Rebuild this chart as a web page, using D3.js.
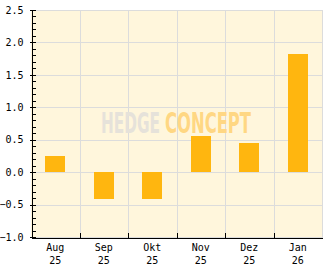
<!DOCTYPE html>
<html>
<head>
<meta charset="utf-8">
<script src="https://cdn.jsdelivr.net/npm/d3@7"></script>
<style>
  body { margin: 0; background: #fff; }
  svg { display: block; }
  .axis text { font-family: "DejaVu Sans Mono", monospace; font-size: 10px; fill: #000; }
  .axis path, .axis line { stroke: #000; shape-rendering: crispEdges; }
  .grid line { stroke: #dcdcdc; shape-rendering: crispEdges; }
  .bar { fill: #ffb60f; shape-rendering: crispEdges; }
</style>
</head>
<body>
<script>
var months = ["Aug", "Sep", "Okt", "Nov", "Dez", "Jan"];
var years = ["25", "25", "25", "25", "25", "26"];
var values = [0.25, -0.42, -0.42, 0.55, 0.45, 1.82];
var yMajor = [-1.0, -0.5, 0.0, 0.5, 1.0, 1.5, 2.0, 2.5];

var width = 332, height = 269;
var plot = {left: 31, right: 322, top: 10, bottom: 237};

var svg = d3.select("body").append("svg")
  .attr("width", width)
  .attr("height", height);

var y = d3.scaleLinear()
  .domain([-1, 2.5])
  .range([plot.bottom, plot.top]);

var x = d3.scaleBand()
  .domain(months)
  .range([plot.left, plot.right]);

// band edges for grid and x ticks
var xEdge = d3.scaleLinear()
  .domain([0, months.length])
  .range([plot.left, plot.right]);

svg.append("rect")
  .attr("x", plot.left)
  .attr("y", plot.top)
  .attr("width", plot.right - plot.left)
  .attr("height", plot.bottom - plot.top)
  .attr("fill", "#fff6dc");

var grid = svg.append("g").attr("class", "grid");
grid.selectAll(".h")
  .data(yMajor)
  .enter().append("line")
  .attr("x1", plot.left).attr("x2", plot.right + 0.5)
  .attr("y1", function(d) { return Math.round(y(d)) + 0.5; })
  .attr("y2", function(d) { return Math.round(y(d)) + 0.5; });
grid.selectAll(".v")
  .data(d3.range(1, months.length + 1))
  .enter().append("line")
  .attr("x1", function(d) { return Math.round(xEdge(d)) + 0.5; })
  .attr("x2", function(d) { return Math.round(xEdge(d)) + 0.5; })
  .attr("y1", plot.top).attr("y2", plot.bottom);

// watermark
var wm = svg.append("g")
  .attr("font-family", "'Liberation Sans Narrow', 'DejaVu Sans Condensed', sans-serif")
  .attr("font-weight", "bold")
  .attr("font-size", 28);
wm.append("text")
  .attr("x", 101).attr("y", 133)
  .attr("textLength", 59).attr("lengthAdjust", "spacingAndGlyphs")
  .attr("fill", "#e6e2da")
  .text("HEDGE");
wm.append("text")
  .attr("x", 165).attr("y", 133)
  .attr("textLength", 86).attr("lengthAdjust", "spacingAndGlyphs")
  .attr("fill", "#ffd783")
  .text("CONCEPT");

svg.selectAll(".bar")
  .data(values)
  .enter().append("rect")
  .attr("class", "bar")
  .attr("x", function(d, i) { return Math.round(x(months[i]) + x.bandwidth() / 2 - 10); })
  .attr("width", 20)
  .attr("y", function(d) { return Math.round(y(Math.max(0, d))); })
  .attr("height", function(d) { return Math.round(Math.abs(y(d) - y(0))); });

// y axis: minor ticks inward, major ticks with labels
var yMinor = svg.append("g")
  .attr("class", "axis")
  .attr("transform", "translate(" + (plot.left + 0.5) + ",0)")
  .call(d3.axisLeft(y).tickValues(d3.range(-10, 26).map(function(d) { return d / 10; }))
    .tickSize(-4).tickFormat(""));
yMinor.select(".domain").remove();

svg.append("g")
  .attr("class", "axis")
  .attr("transform", "translate(" + (plot.left + 0.5) + ",0)")
  .call(d3.axisLeft(y).tickValues(yMajor).tickSizeInner(2).tickSizeOuter(0).tickPadding(6)
    .tickFormat(d3.format(".1f")));

// x axis
svg.append("g")
  .attr("class", "axis")
  .attr("transform", "translate(0," + (plot.bottom + 0.5) + ")")
  .call(d3.axisBottom(xEdge).tickValues(d3.range(1, months.length)).tickSize(-5).tickSizeOuter(0).tickFormat(""));

var labels = svg.append("g")
  .attr("class", "axis")
  .attr("text-anchor", "middle");
labels.selectAll(".m")
  .data(months)
  .enter().append("text")
  .attr("x", function(d) { return x(d) + x.bandwidth() / 2; })
  .attr("y", 251)
  .text(function(d) { return d; });
labels.selectAll(".yr")
  .data(years)
  .enter().append("text")
  .attr("x", function(d, i) { return x(months[i]) + x.bandwidth() / 2; })
  .attr("y", 264)
  .text(function(d) { return d; });
</script>
</body>
</html>
